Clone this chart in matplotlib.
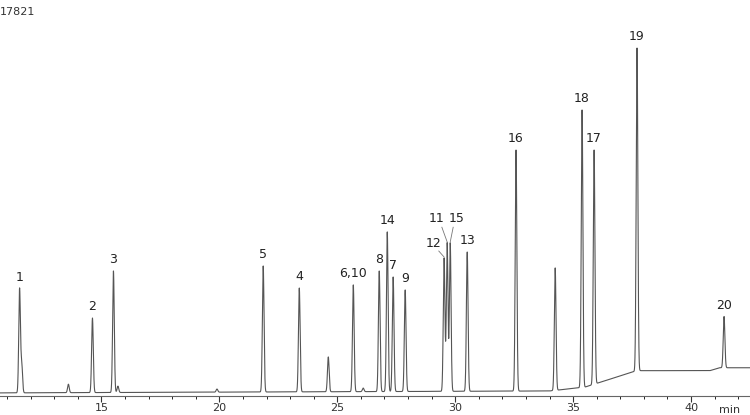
import numpy as np
import matplotlib
matplotlib.use("Agg")
import matplotlib.pyplot as plt

# Peak retention times (min), heights (counts), labels
rt = [11.53, 11.62, 13.6, 14.62, 15.51, 15.7, 19.9, 21.86, 23.39, 24.62, 25.68, 26.1, 26.78, 27.12, 27.37, 27.88,
      29.53, 29.66, 29.79, 30.51, 32.58, 34.24, 35.38, 35.89, 37.71, 41.4]
height = [5370, 1500, 450, 3870, 6300, 350, 200, 6560, 5420, 1860, 5580, 250, 6300, 8320, 5990, 5320,
          6970, 7750, 7750, 7280, 12550, 6460, 14620, 12550, 17821, 3950]
labels = ["1", "", "", "2", "3", "", "", "5", "4", "", "6,10", "", "8", "14", "7", "9",
          "12", "11", "15", "13", "16", "", "18", "17", "19", "20"]
# Baseline drift breakpoints
base_t = [10.7, 34.0, 35.5, 37.7, 40.8, 41.2, 42.5]
base_v = [0, 100, 300, 1150, 1150, 1300, 1300]

scale = 17821 / 345.0
t = np.linspace(10.7, 42.5, 20000)
y = np.interp(t, base_t, base_v)
for r, h in zip(rt, height):
    hb = h - np.interp(r, base_t, base_v)
    y += hb * np.exp(-0.5 * ((t - r) / 0.035) ** 2)

fig = plt.figure(figsize=(7.5, 4.15), dpi=100)
ax = fig.add_axes([0, 0.046, 1, 0.954])
ax.plot(t, y, color="#555555", lw=0.8)
ax.set_xlim(10.7, 42.5)
ax.set_ylim(-3 * scale, 393 * scale)
for s in ["left", "right", "top"]:
    ax.spines[s].set_visible(False)
ax.spines["bottom"].set_color("#666666")
ax.set_yticks([])
ax.set_xticks([15, 20, 25, 30, 35, 40])
ax.set_xticks(np.arange(11, 43, 1), minor=True)
ax.tick_params(axis="x", colors="#333333", labelsize=8, length=4, pad=1)
ax.tick_params(axis="x", which="minor", length=2.5)
fig.text(0.987, 0.005, "min", fontsize=8, color="#333333", ha="right")
fig.text(0.0, 0.965, "17821", fontsize=8, color="#333333")

offsets = {"12": (-0.45, 400), "11": (-0.45, 900), "15": (0.25, 900)}
for r, h, lab in zip(rt, height, labels):
    if not lab:
        continue
    dx, dy = offsets.get(lab, (0, 250))
    ax.text(r + dx, h + dy, lab, ha="center", va="bottom", fontsize=9, color="#222222")
    if lab in offsets:
        ax.plot([r + dx * 0.5, r], [h + dy * 0.9, h + 50], color="#777777", lw=0.6)

fig.savefig("out.png", dpi=100)
